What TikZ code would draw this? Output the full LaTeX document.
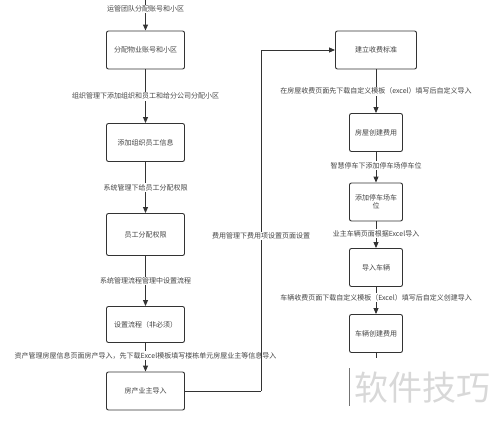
\documentclass[tikz,border=0pt]{standalone}
\usepackage{fontspec}
\setmainfont{Noto Sans CJK SC}
\usetikzlibrary{arrows.meta, positioning}
\definecolor{linegray}{HTML}{333333}
\definecolor{textgray}{HTML}{444444}
\definecolor{markgray}{HTML}{D8D8D8}

\begin{document}
\begin{tikzpicture}[
    x=1pt, y=-1pt,
    font=\fontsize{7}{8.5}\selectfont, text=textgray,
    stepbox/.style={draw=linegray, fill=white, line width=0.9pt, rounded corners=2pt,
        minimum width=78pt, minimum height=38pt, align=center, inner sep=2pt},
    smallbox/.style={stepbox, minimum width=53pt, text width=44pt},
    lbl/.style={fill=white, inner sep=1pt, font=\fontsize{7}{8.5}\selectfont},
    arrow/.style={-{Triangle[length=6pt, width=5pt]}, line width=0.9pt, draw=linegray},
    plain/.style={line width=0.9pt, draw=linegray}
]
\useasboundingbox (0,0) rectangle (500,432);

% Left column
\coordinate (top) at (145.5,0);
\node[stepbox] (account) at (145.5,50) {分配物业账号和小区};
\node[stepbox] (staff) at (145.5,142.5) {添加组织员工信息};
\node[stepbox, minimum height=42pt] (perm) at (145.5,234.5) {员工分配权限};
\node[stepbox, minimum height=36pt] (flow) at (145.5,324.5) {设置流程（非必须）};
\node[stepbox] (house) at (145.5,391) {房产业主导入};

% Right column
\node[stepbox, minimum width=81pt] (standard) at (376,50) {建立收费标准};
\node[smallbox] (housefee) at (376,132.5) {房屋创建费用};
\node[smallbox] (parking) at (376,202) {添加停车场车\\位};
\node[smallbox] (car) at (376,267.5) {导入车辆};
\node[smallbox] (carfee) at (376,333.5) {车辆创建费用};
\coordinate (tail) at (376,358);

% Loop corners
\coordinate (loopdown) at (261,391);
\coordinate (loopup) at (261,50);

% Left column arrows
\draw[arrow] (top) -- node[lbl, pos=0.3]{运管团队分配账号和小区} (account);
\draw[arrow] (account) -- node[lbl, pos=0.5]{组织管理下添加组织和员工和给分公司分配小区} (staff);
\draw[arrow] (staff) -- node[lbl, pos=0.5]{系统管理下给员工分配权限} (perm);
\draw[arrow] (perm) -- node[lbl, pos=0.5]{系统管理流程管理中设置流程} (flow);
\draw[arrow] (flow) -- node[lbl, pos=0.45]{资产管理房屋信息页面房产导入，先下载Excel模板填写楼栋单元房屋业主等信息导入} (house);

% Loop to the right column
\draw[plain] (house) -- (loopdown);
\draw[plain] (loopdown) -- node[lbl, pos=0.455]{费用管理下费用项设置页面设置} (loopup);
\draw[arrow] (loopup) -- (standard);

% Right column arrows
\draw[arrow] (standard) -- node[lbl, pos=0.5]{在房屋收费页面先下载自定义模板（excel）填写后自定义导入} (housefee);
\draw[arrow] (housefee) -- node[lbl, pos=0.45]{智慧停车下添加停车场停车位} (parking);
\draw[arrow] (parking) -- node[lbl, pos=0.45]{业主车辆页面根据Excel导入} (car);
\draw[arrow] (car) -- node[lbl, pos=0.4]{车辆收费页面下载自定义模板（Excel）填写后自定义创建导入} (carfee);
\draw[plain] (carfee) -- (tail);

% Cut-off box edge and watermark
\coordinate (edgetop) at (349,368);
\coordinate (edgebot) at (349,406);
\draw[line width=0.9pt, draw=black!55] (edgetop) -- (edgebot);
\node[text=markgray, font=\fontsize{34}{36}\selectfont, anchor=west, inner sep=0pt] (mark) at (354,388) {软件技巧};

\end{tikzpicture}
\end{document}
